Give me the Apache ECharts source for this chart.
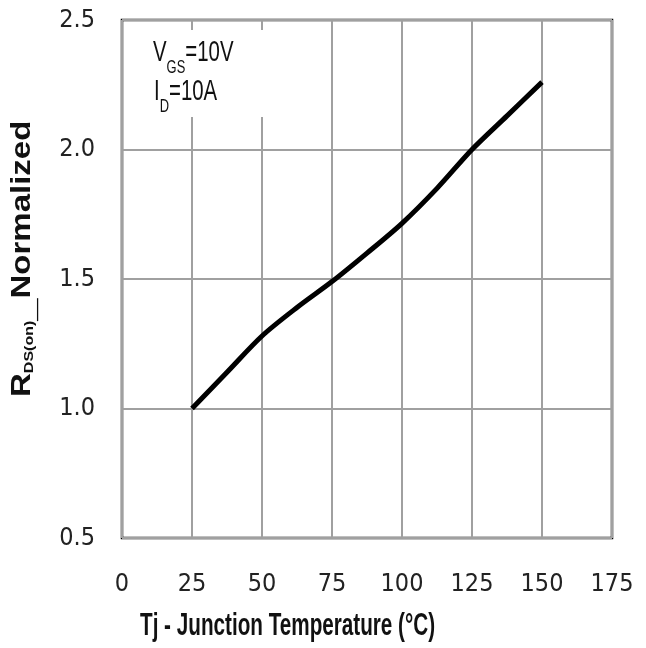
<!DOCTYPE html>
<html>
<head>
<meta charset="utf-8">
<script src="https://cdn.jsdelivr.net/npm/echarts@6/dist/echarts.min.js"></script>
<style>
  html, body { margin: 0; padding: 0; background: #fff; }
  #chart { width: 646px; height: 648px; }
</style>
</head>
<body>
<div id="chart"></div>
<script>
// Normalized on-resistance vs junction temperature (VGS = 10 V, ID = 10 A)
const tjValues = [25, 37.5, 50, 62.5, 75, 87.5, 100, 112.5, 125, 137.5, 150];
const rdsNormalized = [1.0, 1.14, 1.28, 1.39, 1.49, 1.60, 1.715, 1.85, 2.0, 2.13, 2.26];
const xTicks = [0, 25, 50, 75, 100, 125, 150, 175];
const yTicks = [0.5, 1.0, 1.5, 2.0, 2.5];

const tickFont = '"DejaVu Sans Condensed", "Liberation Sans Narrow", sans-serif';
const titleFont = '"Liberation Sans", Arial, sans-serif';

// main text + subscript styles for the test-condition labels
const condRich = {
  m: { fontFamily: titleFont, fontSize: 30, fill: '#111', lineHeight: 34, verticalAlign: 'top' },
  s: { fontFamily: titleFont, fontSize: 19, fill: '#111', lineHeight: 19, padding: [20, 0, 0, 0], verticalAlign: 'top' }
};

// styles for the rotated y-axis title
const yTitleRich = {
  m: { fontFamily: titleFont, fontWeight: 'bold', fontSize: 33, fill: '#111', lineHeight: 36, verticalAlign: 'top' },
  s: { fontFamily: titleFont, fontWeight: 'bold', fontSize: 16, fill: '#111', lineHeight: 16, padding: [17, 0, 0, 0], verticalAlign: 'top' },
  u: { fontFamily: titleFont, fontWeight: 'bold', fontSize: 40, fill: '#111', lineHeight: 25, verticalAlign: 'top' }
};

const chart = echarts.init(document.getElementById('chart'));

chart.setOption({
  animation: false,
  backgroundColor: '#fff',
  grid: {
    left: 122, right: 34, top: 20, bottom: 110,
    show: true, borderColor: '#000', borderWidth: 2.5, backgroundColor: 'transparent'
  },
  xAxis: {
    type: 'value',
    min: xTicks[0], max: xTicks[xTicks.length - 1], interval: 25,
    axisLine: { show: false }, axisTick: { show: false },
    axisLabel: { color: '#222', fontFamily: tickFont, fontSize: 25, margin: 34 },
    splitLine: { show: true, lineStyle: { color: '#a0a0a0', width: 2 } }
  },
  yAxis: {
    type: 'value',
    min: yTicks[0], max: yTicks[yTicks.length - 1], interval: 0.5,
    axisLine: { show: false }, axisTick: { show: false },
    axisLabel: {
      color: '#222', fontFamily: tickFont, fontSize: 25, margin: 27,
      formatter: v => v.toFixed(1)
    },
    splitLine: { show: true, lineStyle: { color: '#a0a0a0', width: 2 } }
  },
  series: [{
    type: 'line',
    data: tjValues.map((t, i) => [t, rdsNormalized[i]]),
    smooth: 0.3,
    showSymbol: false,
    lineStyle: { color: '#000', width: 5 },
    z: 5
  }],
  graphic: [
    {
      type: 'rect', z: 50,
      shape: { x: 128, y: 30, width: 142, height: 87 },
      style: { fill: '#fff' }
    },
    {
      type: 'text', z: 51, x: 153, y: 38, scaleX: 0.68,
      style: { text: '{m|V}{s|GS}{m|=10V}', rich: condRich }
    },
    {
      type: 'text', z: 51, x: 154, y: 77, scaleX: 0.68,
      style: { text: '{m|I}{s|D}{m|=10A}', rich: condRich }
    },
    {
      type: 'text', z: 51, x: 140, y: 611, scaleX: 0.667,
      style: {
        text: 'Tj - Junction Temperature (°C)',
        font: 'bold 31px ' + titleFont, fill: '#111'
      }
    },
    {
      type: 'text', z: 51, x: 8, y: 397, rotation: Math.PI / 2, scaleY: 0.85,
      style: { text: '{m|R}{s|DS(on)}{u|_}{m|Normalized}', rich: yTitleRich }
    }
  ]
});
</script>
</body>
</html>
